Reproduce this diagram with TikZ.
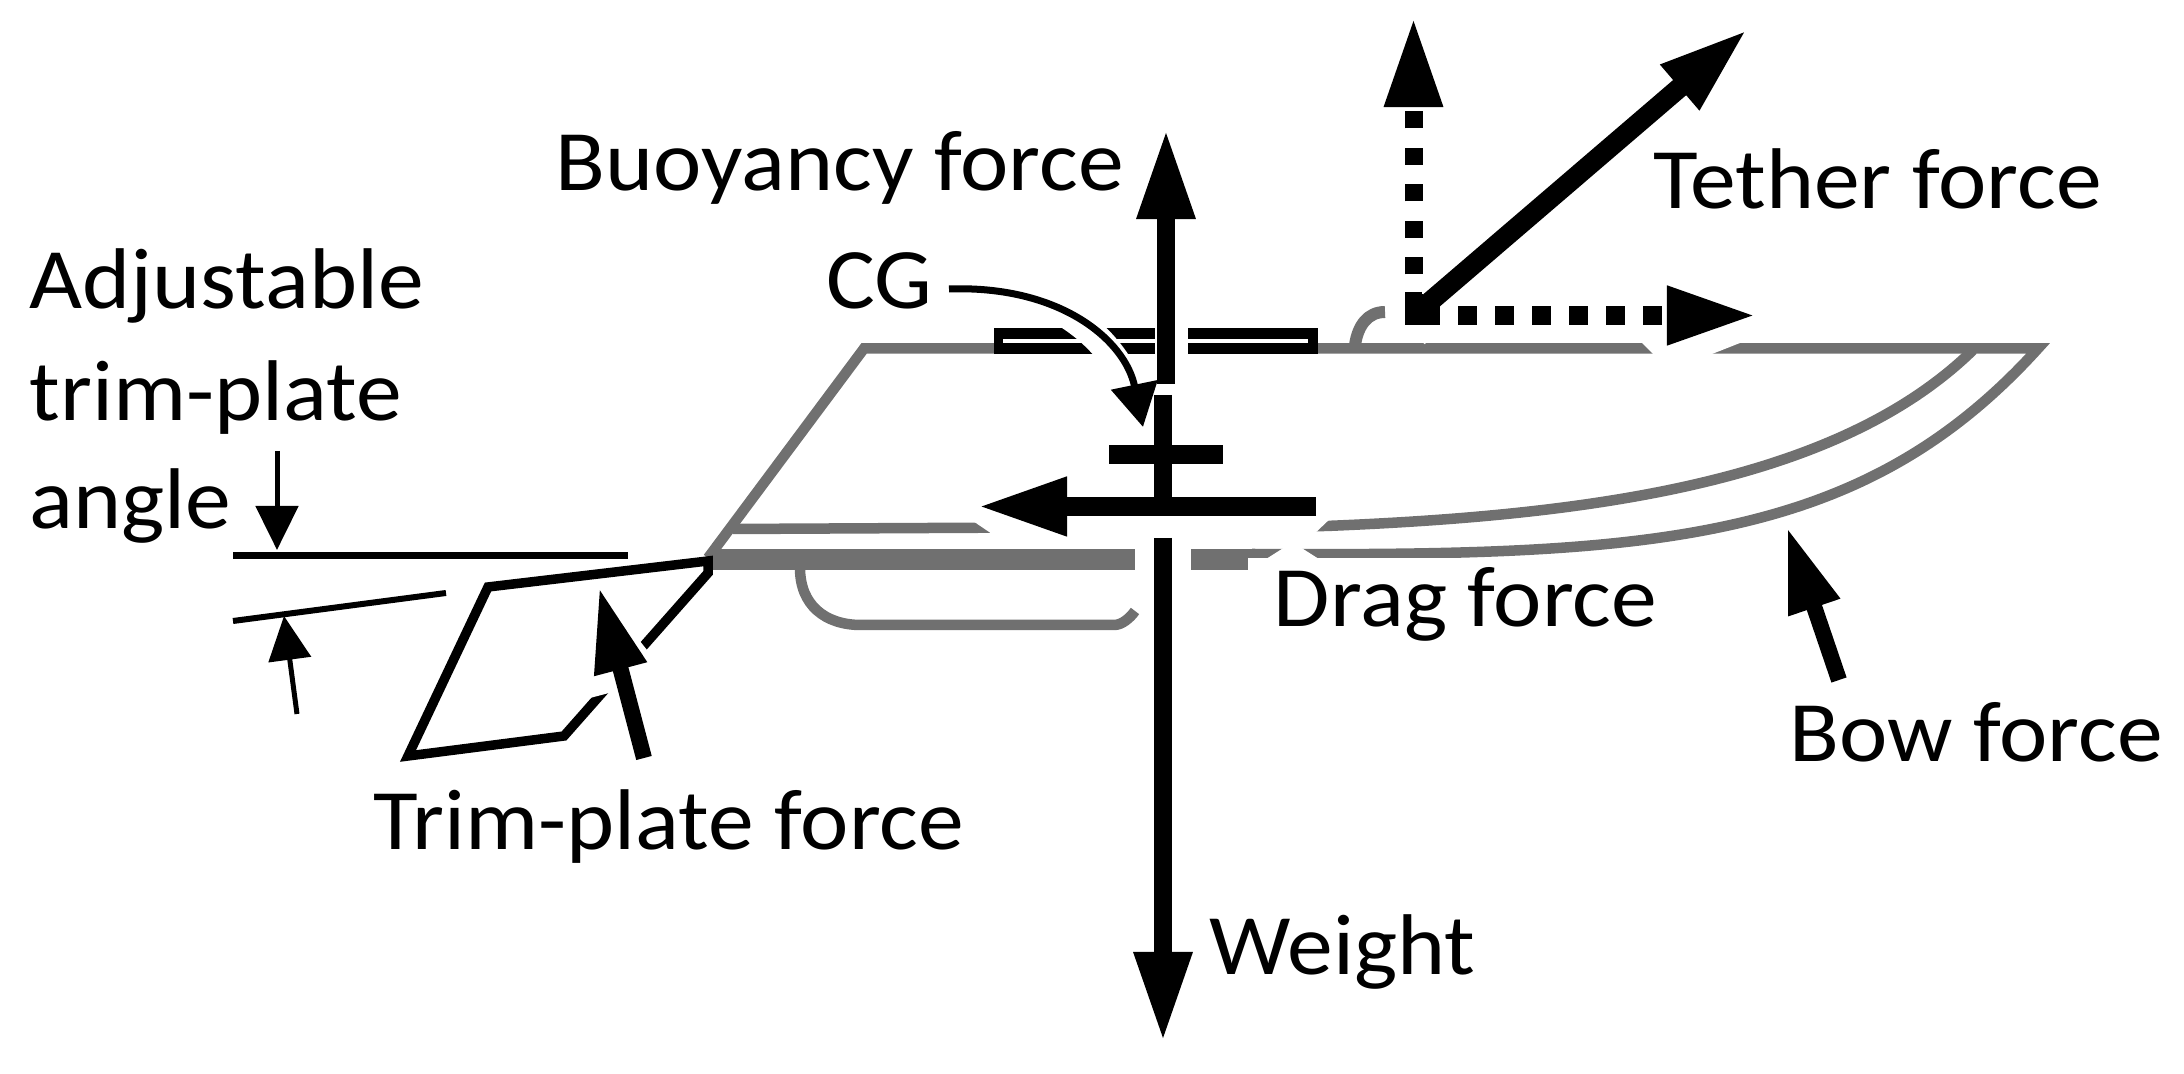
\documentclass[tikz,border=0pt]{standalone}
\usepackage{fontspec}
\setmainfont[FakeStretch=1.063]{Carlito}
\usetikzlibrary{arrows.meta}
\tikzset{
  hull/.style={draw=hullgray, line width=0.105cm},
  lbl/.style={anchor=base west, inner sep=0pt, font=\fontsize{24.5}{28}\selectfont},
  bigarrow/.style={line width=0.18cm, -{Triangle[length=0.9cm,width=0.54cm]}},
  thinarrow/.style={line width=0.05cm, -{Triangle[length=0.44cm,width=0.42cm]}},
  halo/.style={white, line width=0.3cm, -{Triangle[length=1.05cm,width=0.8cm]}},
  wipe/.style={white, line width=0.25cm},
  plate/.style={draw=black, line width=0.095cm}
}
\definecolor{hullgray}{HTML}{707070}
\begin{document}
\begin{tikzpicture}[x=0.01cm,y=-0.01cm]
\useasboundingbox (0,0) rectangle (2184,1074);

% Hull
\draw[hull, line join=miter] (1973,350) .. controls (1840,480) and (1600,515) .. (1326,526) -- (733,529);
\draw[hull, line join=miter] (708,558) -- (864,348.5) -- (2038,348.5) .. controls (1860,545) and (1650,556) .. (1252,554);
\draw[hull, line width=0.21cm] (708,559.5) -- (1252,559.5);
\draw[hull] (800,568) .. controls (800,605) and (825,625) .. (861,625) -- (1114,625) .. controls (1122,625) and (1130,618) .. (1135,611);
\draw[hull, line width=0.12cm] (1355,345) .. controls (1358,325) and (1368,312) .. (1385,312);

% Cabin strip
\fill[black] (994,328) rectangle (1318,354);
\fill[white] (1003,339) rectangle (1308,343);

% Trim plate
\draw[plate, line join=miter] (708,561) -- (488,587) -- (408,756) -- (564,736) -- (708,573) -- cycle;

% Angle marks
\draw[black, line width=0.07cm] (233,556) -- (628,556);
\draw[black, line width=0.06cm] (233,621) -- (446,593);
\draw[thinarrow] (277,451) -- (277,550);
\draw[thinarrow] (297,714) -- (284,616);

% Wiped parts of the hull
\fill[white] (970,519) -- (995,536) -- (1312,536) -- (1332,517) -- cycle;
\fill[white] (1640,341) -- (1655,356) -- (1707,356) -- (1745,341) -- cycle;
\fill[white] (1263,561) -- (1285,547) -- (1300,547) -- (1322,561) -- cycle;
\draw[white, line width=0.56cm] (1163,530) -- (1163,600);

% Trim-plate force
\draw[halo] (644,758) -- (599,587);
\draw[bigarrow, line width=0.16cm, -{Triangle[length=0.85cm,width=0.5cm]}] (644,758) -- (599,587);

% Bow force
\draw[bigarrow, line width=0.16cm, -{Triangle[length=0.85cm,width=0.5cm]}] (1839,680) -- (1787,527);

% Tether force and its components
\draw[wipe, line width=0.3cm] (1413,335) -- (1440,300);
\draw[bigarrow, dash pattern=on 0.17cm off 0.195cm] (1413.5,311) -- (1413.5,17);
\draw[bigarrow, line width=0.19cm, dash pattern=on 0.19cm off 0.18cm] (1421,315.5) -- (1757,315.5);
\draw[black, line width=0.17cm] (1413.5,292) -- (1413.5,325);
\draw[bigarrow, line width=0.2cm] (1418,312) -- (1748,29);

% CG
\draw[wipe, line width=0.28cm] (1040,300) .. controls (1095,325) and (1130,365) .. (1143,427);
\draw[white, line width=0.33cm] (1171,320) -- (1171,362);
\draw[black, line width=0.07cm, -{Triangle[length=0.43cm,width=0.46cm]}] (949,289) .. controls (1060,285) and (1125,340) .. (1143,427);

% Buoyancy force, CG cross, weight
\draw[bigarrow] (1166,384) -- (1166,129);
\draw[black, line width=0.18cm] (1163,395) -- (1163,507);
\draw[black, line width=0.19cm] (1109,455) -- (1223,455);
\draw[bigarrow, line width=0.19cm] (1316,506.5) -- (977,506.5);
\draw[bigarrow] (1163,538) -- (1163,1042);

% Labels
\node[lbl] (buoyancy) at (555,191) {Buoyancy force};
\node[lbl] (cg) at (826,309) {CG};
\node[lbl] (tether) at (1653,209) {Tether force};
\node[lbl] (adjust) at (29,309) {Adjustable};
\node[lbl] (trimplate) at (29,421) {trim-plate};
\node[lbl] (angle) at (29,529) {angle};
\node[lbl, fill=white, inner xsep=0.26cm, inner ysep=0.1cm] (drag) at (1247,627) {Drag force};
\node[lbl] (bow) at (1789,762) {Bow force};
\node[lbl] (trimforce) at (373,850) {Trim-plate force};
\node[lbl] (weight) at (1209,975) {Weight};
\end{tikzpicture}
\end{document}
